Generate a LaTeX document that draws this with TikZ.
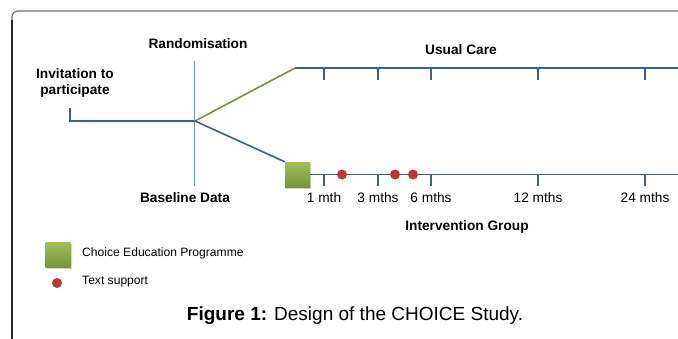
\documentclass[tikz,border=0pt]{standalone}
\usepackage{fontspec}
\setmainfont{Liberation Sans}
\usetikzlibrary{shadows}
\definecolor{lineblue}{RGB}{60,96,150}
\definecolor{thinblue}{RGB}{110,150,200}
\definecolor{lgreen}{RGB}{160,192,90}
\definecolor{dgreen}{RGB}{118,150,56}
\definecolor{dotred}{RGB}{196,52,52}
\definecolor{framegray}{RGB}{110,110,110}
\tikzset{
  tl/.style={draw=lineblue, line width=1.6pt},
  tick/.style={draw=lineblue, line width=1.6pt},
  lbl/.style={font=\fontsize{13.7}{15}\selectfont, inner sep=0pt},
  blbl/.style={font=\fontsize{13.7}{16}\selectfont\bfseries, inner sep=0pt, align=center},
  leg/.style={font=\fontsize{12.1}{14}\selectfont, inner sep=0pt, anchor=west},
  progbox/.style={minimum size=25pt, inner sep=0pt, top color=lgreen, bottom color=dgreen, draw=none,
     drop shadow={shadow xshift=1pt, shadow yshift=-1.5pt, opacity=0.35}},
  dot/.style={circle, fill=dotred, minimum size=10pt, inner sep=0pt, draw=none}
}
\begin{document}
\begin{tikzpicture}[x=1pt, y=-1pt]
\useasboundingbox (0,0) rectangle (678,338);
% frame
\draw[framegray, line width=1.2pt, rounded corners=6pt] (12,340) -- (12,11) -- (680,11);
\draw[black!85, line width=1.2pt] (12,340) -- (12,20);
% texts
\node[blbl] (rand) at (198,44) {Randomisation};
\node[blbl] (invite) at (75,83) {Invitation to\\participate};
\node[blbl] (usual) at (461,50) {Usual Care};
\node[blbl] (base) at (185,198) {Baseline Data};
\node[blbl] (intg) at (467,227) {Intervention Group};
% randomisation line
\coordinate (rtop) at (194,61);
\coordinate (rbot) at (194,186);
\draw[thinblue, line width=0.8pt] (rtop) -- (rbot);
% invitation
\coordinate (inv) at (70,108);
\coordinate (split) at (195,121);
\draw[tl] (inv) |- (split);
% usual care arm
\coordinate (ucstart) at (295,68);
\coordinate (ucend) at (680,68);
\draw[dgreen, line width=1.6pt] (split) -- (ucstart);
\draw[tl] (ucstart) -- (ucend);
% intervention arm
\node[progbox] (prog) at (297.5,174.5) {};
\coordinate (igend) at (680,174.5);
\draw[tl] (split) -- (prog.north west);
\draw[tl] (prog.east) -- (igend);
% ticks and labels
\foreach \x/\t [count=\i] in {324/1 mth, 378/3 mths, 431/6 mths, 538/12 mths, 645/24 mths}{
  \coordinate (ut\i) at (\x,68);
  \coordinate (ub\i) at (\x,80);
  \draw[tick] (ut\i) -- (ub\i);
  \coordinate (it\i) at (\x,174.5);
  \coordinate (ib\i) at (\x,186);
  \draw[tick] (it\i) -- (ib\i);
  \node[lbl] (m\i) at (\x,198) {\t};
}
% text support dots
\node[dot] (d1) at (342,174.5) {};
\node[dot] (d2) at (395,174.5) {};
\node[dot] (d3) at (413,174.5) {};
% legend
\node[progbox] (legbox) at (58,254.5) {};
\node[leg] (legt1) at (82,253) {Choice Education Programme};
\node[dot] (legdot) at (57,283) {};
\node[leg] (legt2) at (82,282) {Text support};
% caption
\node[inner sep=0pt, font=\fontsize{19}{22}\selectfont] (cap) at (355,316) {\textbf{Figure 1:} Design of the CHOICE Study.};
\end{tikzpicture}
\end{document}
